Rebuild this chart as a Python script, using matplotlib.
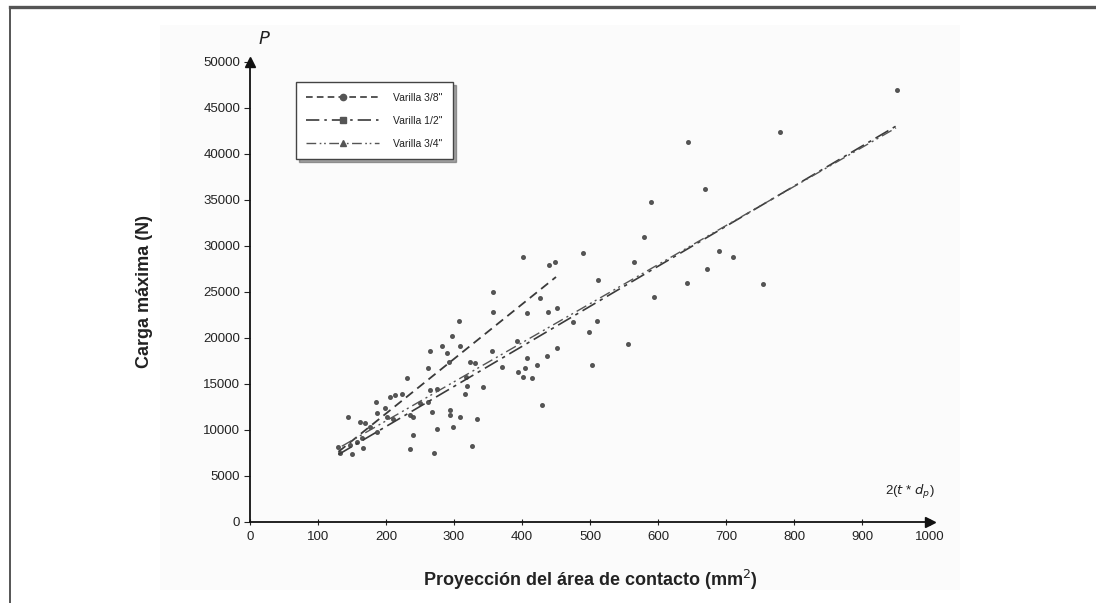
import matplotlib
matplotlib.use("Agg")
import matplotlib.pyplot as plt
import numpy as np
from matplotlib.lines import Line2D
from matplotlib.legend_handler import HandlerLine2D
from matplotlib.patches import Rectangle

plt.rcParams['font.family'] = ['Liberation Sans Narrow', 'Liberation Sans', 'DejaVu Sans']

# ---------------- data ----------------
series_names = ['Varilla 3/8"', 'Varilla 1/2"', 'Varilla 3/4"']

x_38 = [129, 132, 147, 157, 165, 144, 162, 169, 176, 186, 199, 187, 201, 206, 213, 224,
        231, 250, 262, 265, 275, 262, 265, 282, 297, 308, 289, 293, 309, 324, 331, 343,
        356, 358, 358, 392, 407, 407, 402, 426, 438, 439, 449, 451]
y_38 = [8100, 7500, 8300, 8700, 9100, 11400, 10800, 10700, 10300, 13000, 12400, 11800, 11400,
        13600, 13800, 13900, 15600, 12900, 13000, 14300, 14400, 16700, 18600, 19100, 20200,
        21850, 18300, 17400, 19100, 17400, 17200, 14600, 18600, 22800, 24950, 19600, 17800,
        22650, 28800, 24300, 22800, 27900, 28200, 23200]

x_12 = [150, 166, 187, 210, 235, 240, 240, 235, 268, 294, 294, 309, 334, 275, 299, 326, 270,
        318, 319, 316, 371, 394, 402, 404, 415, 422, 429, 437, 451, 498, 503]
y_12 = [7400, 8000, 9700, 11200, 11600, 11400, 9400, 7900, 11900, 12100, 11600, 11400, 11200,
        10100, 10300, 8200, 7500, 15700, 14800, 13900, 16800, 16300, 15700, 16700, 15600, 17000,
        12700, 18000, 18900, 20600, 17000]

x_34 = [475, 510, 556, 594, 643, 672, 490, 512, 564, 579, 590, 644, 669, 690, 710, 754, 779, 951]
y_34 = [21700, 21800, 19300, 24400, 26000, 27500, 29200, 26250, 28200, 30900, 34800, 41300,
        36200, 29400, 28800, 25800, 42400, 46900]

# trend lines (end points)
fit_x_38 = [130, 450]
fit_y_38 = [7600, 26600]
fit_x_12 = [130, 950]
fit_y_12 = [7300, 43000]
fit_x_34 = [135, 950]
fit_y_34 = [8200, 42800]

x_ticks = [0, 100, 200, 300, 400, 500, 600, 700, 800, 900, 1000]
y_ticks = [0, 5000, 10000, 15000, 20000, 25000, 30000, 35000, 40000, 45000, 50000]

# ---------------- figure ----------------
W, H = 1096, 603
fig = plt.figure(figsize=(W / 100, H / 100), dpi=100)
fig.patch.set_facecolor('white')

# faint panel background
fig.patches.append(Rectangle((160 / W, 1 - 590 / H), 800 / W, 565 / H,
                             transform=fig.transFigure, facecolor='#fbfbfb',
                             edgecolor='none', zorder=-10))
# outer frame (top + left)
fig.lines.append(Line2D([10 / W, 1.0], [1 - 7 / H, 1 - 7 / H], transform=fig.transFigure,
                        color='#555555', lw=2.4))
fig.lines.append(Line2D([10 / W, 10 / W], [1 - 7 / H, 0], transform=fig.transFigure,
                        color='#555555', lw=1.4))

ax = fig.add_axes([250 / W, 1 - 521.7 / H, 680 / W, 460 / H])
ax.set_facecolor('none')
ax.set_xlim(0, 1000)
ax.set_ylim(0, 50000)

for s in ['top', 'right']:
    ax.spines[s].set_visible(False)
for s in ['left', 'bottom']:
    ax.spines[s].set_linewidth(1.3)
    ax.spines[s].set_color('#111111')

ax.set_xticks(x_ticks)
ax.set_yticks(y_ticks)
ax.set_xticklabels([str(v) for v in x_ticks])
ax.set_yticklabels([str(v) for v in y_ticks])
ax.tick_params(axis='x', direction='inout', length=5, width=0.8, labelsize=9.5,
               colors='#222222', pad=4)
ax.tick_params(axis='y', direction='out', length=4, width=0.8, labelsize=9.5,
               colors='#222222', pad=3)

# arrows on axes
ax.plot(1, 0, '>', transform=ax.transAxes, color='#111111', ms=7, clip_on=False)
ax.plot(0, 1, '^', transform=ax.transAxes, color='#111111', ms=7, clip_on=False)

pt_col = '#4a4a4a'
ln_col = '#3a3a3a'

ax.plot(x_38, y_38, 'o', color=pt_col, ms=2.6, ls='none', alpha=0.9)
ax.plot(x_12, y_12, 'o', color=pt_col, ms=2.6, ls='none', alpha=0.9)
ax.plot(x_34, y_34, 'o', color=pt_col, ms=2.6, ls='none', alpha=0.9)

ax.plot(fit_x_38, fit_y_38, color=ln_col, lw=1.3, dashes=(5, 3))
ax.plot(fit_x_12, fit_y_12, color=ln_col, lw=1.2, dashes=(9, 3, 2, 3))
ax.plot(fit_x_34, fit_y_34, color='#555555', lw=1.0, dashes=(8, 3, 1.5, 2.5, 1.5, 3))

ax.set_xlabel('Proyección del área de contacto (mm$^2$)', fontsize=13, fontweight='bold',
              color='#222222', labelpad=18)
ax.set_ylabel('Carga máxima (N)', fontsize=13, fontweight='bold', color='#222222',
              labelpad=36)

ax.text(0.012, 1.03, '$P$', transform=ax.transAxes, fontsize=13, color='#222222',
        ha='left', va='bottom')
ax.text(0.97, 0.045, r'2($t$ * $d_p$)', transform=ax.transAxes, fontsize=9.5,
        color='#222222', ha='center', va='bottom')


class HandlerEndMarker(HandlerLine2D):
    def get_xdata(self, legend, xdescent, ydescent, width, height, fontsize):
        xdata = [-xdescent, -xdescent + width]
        return xdata, [-xdescent + width + 0.3 * fontsize]


h38 = Line2D([], [], color=ln_col, lw=1.2, dashes=(4, 2.5), marker='o', ms=4.5,
             markerfacecolor='#555555', markeredgecolor='#555555')
h12 = Line2D([], [], color=ln_col, lw=1.2, dashes=(8, 3, 1.5, 3), marker='s', ms=4.5,
             markerfacecolor='#555555', markeredgecolor='#555555')
h34 = Line2D([], [], color='#555555', lw=1.0, dashes=(7, 2.5, 1.2, 2, 1.2, 2.5), marker='^',
             ms=5, markerfacecolor='#555555', markeredgecolor='#555555')

leg = ax.legend([h38, h12, h34], series_names, loc='upper left',
                bbox_to_anchor=(0.06, 0.967), fontsize=7.5, handlelength=7.0,
                handletextpad=1.3, labelspacing=1.25, borderpad=1.0, frameon=True,
                fancybox=False, shadow=True,
                handler_map={Line2D: HandlerEndMarker()})
leg.get_frame().set_edgecolor('#444444')
leg.get_frame().set_linewidth(1.0)
for t in leg.get_texts():
    t.set_color('#222222')

fig.savefig('out.png', dpi=100)
